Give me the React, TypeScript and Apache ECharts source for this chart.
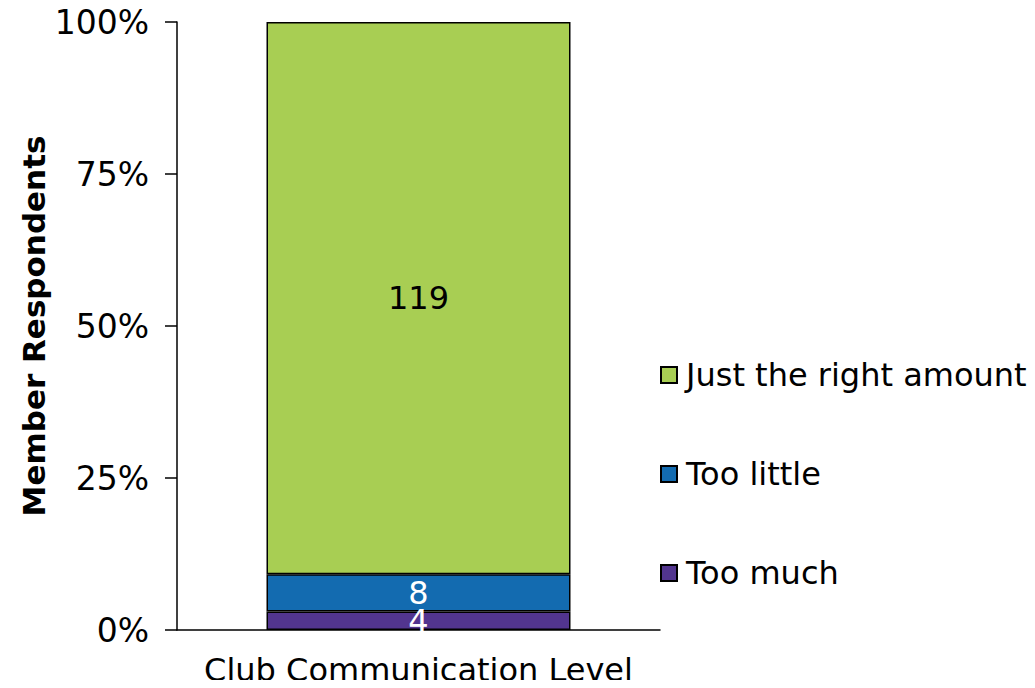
import React, { useEffect, useRef } from "react";
import * as echarts from "echarts";

const categories = ["Club Communication Level"];
const seriesNames = ["Too much", "Too little", "Just the right amount"];
const counts = [4, 8, 119];
const colors = ["#52358f", "#136bb0", "#a8ce53"];
const labelColors = ["#ffffff", "#ffffff", "#000000"];
const yTicks = [0, 25, 50, 75, 100];

export default function App() {
  const ref = useRef<HTMLDivElement>(null);
  useEffect(() => {
    if (!ref.current) return;
    const chart = echarts.init(ref.current, null, { renderer: "svg" });
    const total = counts.reduce((a, b) => a + b, 0);
    const font = "'DejaVu Sans', Verdana, sans-serif";
    chart.setOption({
      animation: false,
      textStyle: { fontFamily: font },
      grid: { left: 177, right: 375, top: 22, bottom: 58, containLabel: false },
      legend: {
        orient: "vertical",
        left: 655,
        top: 352,
        itemWidth: 16,
        itemHeight: 16,
        itemGap: 63,
        data: [...seriesNames].reverse(),
        textStyle: { fontSize: 32, lineHeight: 36, color: "#000", fontFamily: font, padding: [0, 0, 0, 4] },
        icon: "rect",
      },
      xAxis: {
        type: "category",
        data: categories,
        axisLine: { lineStyle: { color: "#000", width: 1.5 } },
        axisTick: { show: false },
        axisLabel: { fontSize: 32, lineHeight: 34, color: "#000", margin: 23, fontFamily: font },
      },
      yAxis: {
        type: "value",
        min: yTicks[0],
        max: yTicks[yTicks.length - 1],
        interval: 25,
        name: "Member Respondents",
        nameLocation: "middle",
        nameRotate: 90,
        nameGap: 128,
        nameTextStyle: { fontSize: 31, fontWeight: "bold", color: "#000", fontFamily: font },
        axisLine: { show: true, lineStyle: { color: "#000", width: 1.5 } },
        axisTick: { show: true, length: 12, lineStyle: { color: "#000", width: 1.5 } },
        splitLine: { show: false },
        axisLabel: { fontSize: 33, color: "#000", margin: 28, formatter: "{value}%", fontFamily: font },
      },
      series: seriesNames.map((name, i) => ({
        name,
        type: "bar",
        stack: "total",
        barWidth: 304,
        data: [(counts[i] / total) * 100],
        itemStyle: { color: colors[i], borderColor: "#000", borderWidth: 1.5 },
        label: {
          show: true,
          position: "inside",
          color: labelColors[i],
          fontSize: 32,
          fontFamily: font,
          formatter: () => String(counts[i]),
        },
      })),
    });
    return () => chart.dispose();
  }, []);
  return <div ref={ref} style={{ width: 1035, height: 688, margin: -8 }} />;
}
